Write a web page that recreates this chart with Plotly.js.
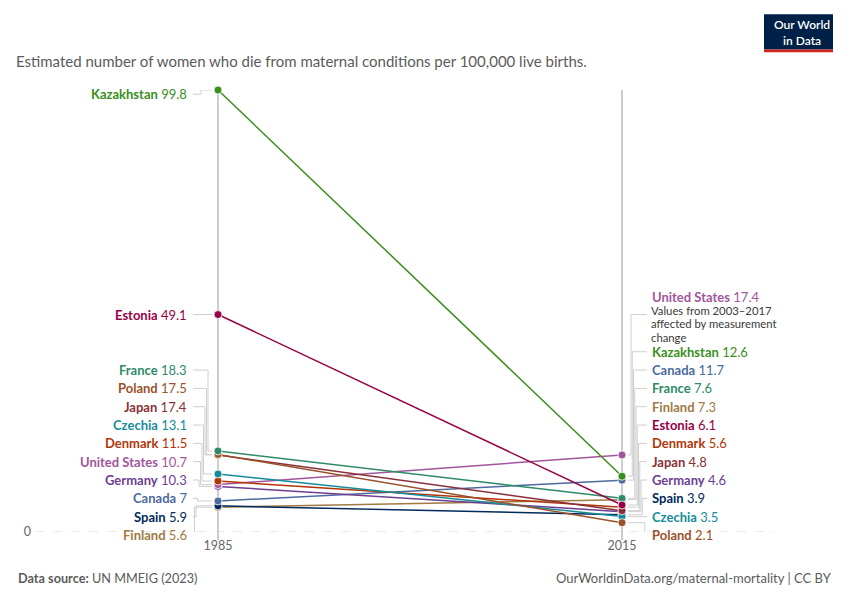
<!DOCTYPE html>
<html>
<head>
<meta charset="utf-8">
<script src="https://cdn.plot.ly/plotly-3.0.1.min.js"></script>
<style>html,body{margin:0;padding:0;background:#fff;} #chart{width:850px;height:600px;}</style>
</head>
<body>
<div id="chart"></div>
<script>
// ---- Data ----
const countries = ['Kazakhstan','Estonia','France','Poland','Japan','Czechia','Denmark','United States','Germany','Canada','Spain','Finland'];
const years = [1985, 2015];
const values1985 = [99.8, 49.1, 18.3, 17.5, 17.4, 13.1, 11.5, 10.7, 10.3, 7, 5.9, 5.6];
const values2015 = [12.6, 6.1, 7.6, 2.1, 4.8, 3.5, 5.6, 17.4, 4.6, 11.7, 3.9, 7.3];
const colors = ['#3B8E1D','#970046','#2F8A68','#9A5129','#883039','#168C9A','#B13507','#A2559C','#6D3E91','#4C6A9C','#00295B','#9E7A44'];
const yTickVals = [0];
const yTickText = ['0'];
const noteCountry = 'United States';
const noteLines = ['Values from 2003–2017', 'affected by measurement', 'change'];
const subtitle = 'Estimated number of women who die from maternal conditions per 100,000 live births.';
const sourceText = '<b>Data source:</b> UN MMEIG (2023)';
const urlText = 'OurWorldinData.org/maternal-mortality | CC BY';
const logoLines = ['Our World', 'in Data'];

// ---- Layout geometry ----
const W = 850, H = 600;
const M = {l: 35, r: 75, t: 90, b: 68};
const plotW = W - M.l - M.r, plotH = H - M.t - M.b;
const xLeftPx = 218, xRightPx = 622;
const pxPerYear = (xRightPx - xLeftPx) / (years[1] - years[0]);
const x0 = years[0] - (xLeftPx - M.l) / pxPerYear;
const x1 = x0 + plotW / pxPerYear;
const yMax = Math.max(...values1985, ...values2015);
const yToPx = v => M.t + (yMax - v) * plotH / yMax;
const pxToY = p => yMax - (p - M.t) * yMax / plotH;
const pxToX = p => x0 + (p - M.l) / pxPerYear;
const paperX = p => (p - M.l) / plotW;
const paperY = p => (M.t + plotH - p) / plotH;

const FONT = 'Lato, "Noto Sans", sans-serif';
const LABEL_H = 18.33;
const NOTE_SIZE = 11.3;
const NOTE_GAP = 13.6;
const TOP_BOUND = 85, BOTTOM_BOUND = 544.2;

// label placement: groups overlapping labels, centers them on targets, clamps to bounds
function placeLabels(items) {
  items.sort((a, b) => a.target - b.target);
  let groups = items.map(it => ({items: [it]}));
  function positionGroup(g) {
    let off = 0, sum = 0;
    g.items.forEach(it => { it.off = off + it.anchor; sum += it.target - it.off; off += it.h; });
    g.h = off;
    g.top = sum / g.items.length;
    if (g.top < TOP_BOUND) g.top = TOP_BOUND;
    if (g.top + g.h > BOTTOM_BOUND) g.top = BOTTOM_BOUND - g.h;
  }
  groups.forEach(positionGroup);
  let changed = true;
  while (changed) {
    changed = false;
    for (let i = 0; i < groups.length - 1; i++) {
      if (groups[i].top + groups[i].h > groups[i + 1].top - 0.01) {
        groups[i] = {items: groups[i].items.concat(groups[i + 1].items)};
        groups.splice(i + 1, 1);
        positionGroup(groups[i]);
        changed = true;
        break;
      }
    }
  }
  groups.forEach(g => {
    let off = 0;
    g.items.forEach((it, k) => {
      it.top = g.top + off;
      it.anchorY = it.top + it.anchor;
      it.idx = k; it.n = g.items.length;
      off += it.h;
    });
  });
  return items;
}

function buildSide(values, side) {
  const items = countries.map((c, i) => {
    const hasNote = side === 'right' && c === noteCountry;
    return {
      i, name: c, value: values[i], target: yToPx(values[i]),
      h: hasNote ? LABEL_H + 36.7 : LABEL_H,
      anchor: hasNote ? 27 : LABEL_H / 2,
      note: hasNote
    };
  });
  return placeLabels(items);
}

const leftItems = buildSide(values1985, 'left');
const rightItems = buildSide(values2015, 'right');

// ---- Traces ----
const traces = [];
function leaderTrace(items, side) {
  const xs = [], ys = [];
  items.forEach(it => {
    let elbow, startPx, endPx;
    if (side === 'left') {
      elbow = it.n === 1 ? 201 : 208 - 1.5 * it.idx;
      startPx = 193; endPx = 212;
    } else {
      elbow = it.n === 1 ? 636 : 631 + 1.25 * it.idx;
      startPx = 647; endPx = 628;
    }
    const ly = it.anchorY;
    const py = it.target;
    [[startPx, ly], [elbow, ly], [elbow, py], [endPx, py]].forEach(p => {
      xs.push(pxToX(p[0])); ys.push(pxToY(p[1]));
    });
    xs.push(null); ys.push(null);
  });
  return {x: xs, y: ys, mode: 'lines', line: {color: '#cfcfcf', width: 1},
          hoverinfo: 'skip', showlegend: false, cliponaxis: false, connectgaps: false};
}
traces.push(leaderTrace(leftItems, 'left'));
traces.push(leaderTrace(rightItems, 'right'));

const order = countries.map((c, i) => i).reverse();
order.forEach(i => {
  traces.push({
    x: years, y: [values1985[i], values2015[i]],
    mode: 'lines+markers', name: countries[i],
    line: {color: colors[i], width: 1.5},
    marker: {color: colors[i], size: 8, line: {color: '#ffffff', width: 0.8}},
    cliponaxis: false, showlegend: false
  });
});

// ---- Annotations ----
const annotations = [];
leftItems.forEach(it => {
  annotations.push({
    x: years[0], xref: 'x', xanchor: 'right', xshift: -(xLeftPx - 189),
    y: paperY(it.anchorY), yref: 'paper', yanchor: 'middle',
    text: '<b>' + it.name + '</b> ' + it.value, showarrow: false,
    font: {family: FONT, size: 13, color: colors[it.i]}
  });
});
rightItems.forEach(it => {
  const nameY = it.note ? it.top + LABEL_H / 2 : it.anchorY;
  annotations.push({
    x: years[1], xref: 'x', xanchor: 'left', xshift: 650 - xRightPx,
    y: paperY(nameY), yref: 'paper', yanchor: 'middle',
    text: '<b>' + it.name + '</b> ' + it.value, showarrow: false,
    font: {family: FONT, size: 13, color: colors[it.i]}
  });
  if (it.note) {
    noteLines.forEach((t, k) => {
      annotations.push({
        x: years[1], xref: 'x', xanchor: 'left', xshift: 650 - xRightPx,
        y: paperY(it.top + 22.6 + NOTE_GAP * k), yref: 'paper', yanchor: 'middle',
        text: t, showarrow: false, borderpad: 0,
        font: {family: FONT, size: NOTE_SIZE, color: '#3a3a3a'}
      });
    });
  }
});
// logo text
annotations.push({
  x: paperX(801.5), y: paperY(32.5), xref: 'paper', yref: 'paper',
  xanchor: 'center', yanchor: 'middle', borderpad: 0,
  text: logoLines.join('<br>'), showarrow: false,
  font: {family: FONT, size: 12, color: '#ffffff', weight: 600}
});
// footer
annotations.push({
  x: paperX(16), y: paperY(578), xref: 'paper', yref: 'paper', xanchor: 'left', yanchor: 'middle',
  text: sourceText, showarrow: false, font: {family: FONT, size: 12.7, color: '#5b5b5b'}
});
annotations.push({
  x: paperX(834), y: paperY(578), xref: 'paper', yref: 'paper', xanchor: 'right', yanchor: 'middle',
  text: urlText, showarrow: false, font: {family: FONT, size: 13, color: '#5b5b5b'}
});

// ---- Shapes ----
const shapes = [];
shapes.push({type: 'line', xref: 'paper', yref: 'y', x0: 0, x1: 1, y0: 0, y1: 0,
             line: {color: '#d6d6d6', width: 1, dash: 'dash'}, layer: 'below'});
years.forEach(yr => {
  shapes.push({type: 'line', xref: 'x', yref: 'paper', x0: yr, x1: yr, y0: paperY(540), y1: 1,
               line: {color: '#cccccc', width: 2}, layer: 'below'});
});
shapes.push({type: 'rect', xref: 'paper', yref: 'paper', x0: paperX(764), x1: paperX(833),
             y0: paperY(49.5), y1: paperY(14.3), fillcolor: '#002147', line: {width: 0}});
shapes.push({type: 'rect', xref: 'paper', yref: 'paper', x0: paperX(764), x1: paperX(833),
             y0: paperY(52.3), y1: paperY(49.5), fillcolor: '#ce261e', line: {width: 0}});

const layout = {
  width: W, height: H,
  margin: M,
  paper_bgcolor: '#ffffff', plot_bgcolor: '#ffffff',
  font: {family: FONT, color: '#666666'},
  title: {text: subtitle, x: 16 / W, xref: 'container', xanchor: 'left',
          y: 1 - 62 / H, yref: 'container', yanchor: 'middle',
          font: {family: FONT, size: 15, color: '#5b5b5b'}},
  xaxis: {range: [x0, x1], tickvals: years, ticktext: years.map(String), showgrid: false,
          zeroline: false, showline: false, ticks: '', ticklabelstandoff: 4,
          tickfont: {family: FONT, size: 12.5, color: '#666666'}, fixedrange: true},
  yaxis: {range: [0, yMax], tickvals: yTickVals, ticktext: yTickText, showgrid: false,
          zeroline: false, showline: false, ticks: '', ticklabelstandoff: 3,
          tickfont: {family: FONT, size: 12.5, color: '#666666'}, fixedrange: true},
  annotations, shapes,
  showlegend: false, hovermode: false
};

Plotly.newPlot('chart', traces, layout, {displayModeBar: false, staticPlot: true});
</script>
</body>
</html>
